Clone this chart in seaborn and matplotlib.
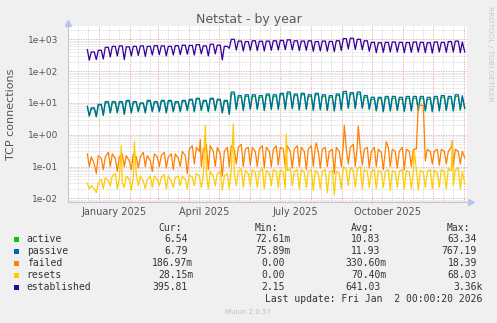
import numpy as np
import pandas as pd
import matplotlib
matplotlib.use("Agg")
import matplotlib.pyplot as plt
import matplotlib.dates as mdates
import matplotlib.ticker as mticker
from matplotlib.patches import Rectangle
from matplotlib.transforms import blended_transform_factory
import seaborn as sns

# ---------------- data ----------------
series_names = ["active", "passive", "failed", "resets", "established"]
series_colors = ["#00CC00", "#0066B3", "#FF8000", "#FFCC00", "#330099"]

week_start = "2024-12-16"   # Monday of first week
n_weeks = 55

established_high = [480, 400, 450, 560, 600, 620, 580, 600, 620, 600,
                    630, 620, 600, 630, 650, 640, 680, 620, 700, 650,
                    600, 1000, 880, 850, 900, 870, 880, 900, 920, 960,
                    900, 880, 900, 850, 880, 860, 900, 1050, 1080, 1000,
                    900, 800, 780, 800, 820, 800, 790, 820, 800, 780,
                    820, 800, 850, 880, 820]
established_low = [220, 230, 240, 280, 300, 230, 300, 310, 290, 320,
                   330, 300, 320, 330, 340, 320, 350, 300, 350, 224,
                   520, 460, 430, 450, 440, 430, 450, 460, 470, 460,
                   440, 450, 420, 430, 420, 410, 440, 500, 480, 470,
                   420, 380, 390, 400, 400, 380, 390, 400, 380, 370,
                   400, 390, 400, 380, 400]

passive_high = [8, 7, 9, 11, 11, 11, 12, 11, 10, 12,
                11, 12, 12, 11, 12, 13, 14, 12, 14, 13,
                12, 22, 17, 18, 18, 17, 19, 18, 20, 22,
                19, 20, 18, 20, 18, 17, 19, 23, 21, 22,
                17, 15, 15, 16, 16, 15, 16, 16, 16, 15,
                16, 17, 16, 18, 17]
passive_low = [4.0, 3.8, 4.2, 5.0, 5.0, 4.5, 5.0, 5.5, 5.0, 5.5,
               5.5, 5.0, 5.5, 5.5, 6.0, 5.5, 6.0, 5.5, 6.0, 5.0,
               4.5, 6.5, 6.0, 6.5, 6.5, 6.0, 6.5, 6.5, 6.5, 6.8,
               6.2, 6.5, 6.0, 6.3, 6.0, 5.8, 6.2, 7.0, 6.8, 7.0,
               6.5, 5.8, 5.5, 5.8, 6.0, 5.6, 5.8, 6.0, 5.8, 5.5,
               5.8, 6.0, 5.8, 6.2, 6.8]

active_high = [7.5, 6.5, 8.5, 10, 10, 10, 11, 10, 9.5, 11,
               10, 11, 11, 10, 11, 12, 13, 11, 13, 12,
               11, 19, 15, 16, 16, 15, 17, 16, 18, 19,
               17, 18, 16, 18, 16, 15, 17, 20, 19, 19,
               15, 13, 13.5, 14, 14, 13, 14, 14, 14, 13,
               14, 15, 14, 16, 15]
active_low = [3.8, 3.6, 4.0, 4.8, 4.8, 4.3, 4.8, 5.2, 4.8, 5.2,
              5.2, 4.8, 5.2, 5.2, 5.7, 5.2, 5.7, 5.2, 5.7, 4.8,
              4.3, 6.2, 5.7, 6.2, 6.2, 5.7, 6.2, 6.2, 6.2, 6.5,
              5.9, 6.2, 5.7, 6.0, 5.7, 5.5, 5.9, 6.7, 6.5, 6.7,
              6.2, 5.5, 5.2, 5.5, 5.7, 5.3, 5.5, 5.7, 5.5, 5.2,
              5.5, 5.7, 5.5, 5.9, 6.5]

failed_tue = [0.15, 0.20, 0.22, 0.20, 0.25, 0.20, 0.22, 0.25, 0.20, 0.22,
              0.25, 0.22, 0.20, 0.25, 0.30, 0.35, 0.40, 0.35, 0.45, 0.40,
              0.30, 0.45, 0.40, 0.35, 0.40, 0.35, 0.40, 0.35, 0.40, 0.45,
              0.35, 0.40, 0.35, 0.40, 0.35, 0.30, 0.40, 0.45, 0.40, 0.45,
              0.35, 0.30, 0.35, 0.30, 0.35, 0.30, 0.35, 0.35, 8.40, 0.35,
              0.30, 0.35, 0.30, 0.35, 0.30]
failed_fri = [0.25, 0.12, 0.18, 0.28, 0.18, 0.25, 0.15, 0.20, 0.28, 0.15,
              0.20, 0.28, 0.25, 0.18, 0.22, 0.45, 0.30, 0.50, 0.30, 0.25,
              0.40, 0.35, 0.50, 0.40, 0.30, 0.45, 0.30, 0.45, 0.35, 0.30,
              0.45, 0.30, 0.45, 0.30, 0.40, 0.35, 0.30, 0.35, 0.50, 0.35,
              0.40, 0.40, 0.28, 0.40, 0.30, 0.40, 0.30, 0.35, 8.40, 0.30,
              0.35, 0.30, 0.40, 0.30, 0.35]
failed_low = [0.10, 0.06, 0.08, 0.10, 0.07, 0.10, 0.08, 0.09, 0.10, 0.07,
              0.10, 0.09, 0.08, 0.10, 0.06, 0.12, 0.10, 0.08, 0.10, 0.05,
              0.10, 0.12, 0.10, 0.11, 0.10, 0.09, 0.10, 0.11, 0.10, 0.09,
              0.10, 0.08, 0.10, 0.09, 0.10, 0.06, 0.10, 0.12, 0.10, 0.11,
              0.09, 0.10, 0.08, 0.10, 0.09, 0.08, 0.10, 8.30, 0.15, 0.12,
              0.11, 0.12, 0.10, 0.12, 0.15]
failed_spike_dates = ["2025-04-12", "2025-08-06", "2025-09-03", "2025-09-17",
                      "2025-10-15", "2025-12-20"]
failed_spike_values = [0.70, 0.55, 2.00, 1.90, 0.60, 0.65]

resets_tue = [0.035, 0.025, 0.030, 0.045, 0.050, 0.040, 0.050, 0.045, 0.050, 0.040,
              0.050, 0.045, 0.050, 0.045, 0.050, 0.055, 0.060, 0.050, 0.070, 0.060,
              0.050, 0.080, 0.070, 0.075, 0.080, 0.070, 0.075, 0.080, 0.080, 0.075,
              0.070, 0.080, 0.070, 0.075, 0.070, 0.065, 0.070, 0.100, 0.090, 0.085,
              0.080, 0.070, 0.075, 0.070, 0.075, 0.070, 0.075, 0.070, 0.075, 0.070,
              0.075, 0.080, 0.085, 0.080, 0.070]
resets_fri = [0.030, 0.020, 0.040, 0.035, 0.060, 0.030, 0.040, 0.055, 0.035, 0.050,
              0.040, 0.055, 0.035, 0.050, 0.040, 0.045, 0.050, 0.065, 0.050, 0.070,
              0.060, 0.060, 0.085, 0.060, 0.065, 0.085, 0.060, 0.070, 0.065, 0.085,
              0.080, 0.065, 0.080, 0.060, 0.080, 0.075, 0.060, 0.080, 0.075, 0.100,
              0.070, 0.080, 0.065, 0.080, 0.065, 0.080, 0.065, 0.080, 0.065, 0.080,
              0.065, 0.070, 0.075, 0.090, 0.075]
resets_low = [0.020, 0.015, 0.020, 0.025, 0.020, 0.022, 0.018, 0.025, 0.020, 0.022,
              0.025, 0.020, 0.022, 0.025, 0.020, 0.025, 0.022, 0.020, 0.025, 0.018,
              0.020, 0.025, 0.022, 0.025, 0.022, 0.020, 0.025, 0.022, 0.020, 0.025,
              0.020, 0.022, 0.018, 0.020, 0.015, 0.013, 0.020, 0.025, 0.022, 0.020,
              0.022, 0.020, 0.022, 0.018, 0.022, 0.020, 0.020, 0.018, 0.022, 0.020,
              0.022, 0.020, 0.025, 0.020, 0.025]
resets_spike_dates = ["2025-01-23", "2025-02-05", "2025-04-17", "2025-05-15",
                      "2025-07-07", "2025-11-12", "2025-12-20"]
resets_spike_values = [0.45, 0.60, 2.00, 2.20, 1.05, 0.32, 0.60]

current_date = "2026-01-01 12:00"
current_values = [6.54, 6.79, 0.18697, 0.02815, 395.81]

legend_cur = ["6.54", "6.79", "186.97m", "28.15m", "395.81"]
legend_min = ["72.61m", "75.89m", "0.00", "0.00", "2.15"]
legend_avg = ["10.83", "11.93", "330.60m", "70.40m", "641.03"]
legend_max = ["63.34", "767.19", "18.39", "68.03", "3.36k"]

quarter_labels = ["January 2025", "April 2025", "July 2025", "October 2025"]
quarter_label_dates = ["2025-01-16", "2025-04-16", "2025-07-16", "2025-10-16"]

# ---------------- build table ----------------
mondays = pd.date_range(week_start, periods=n_weeks, freq="7D")
weekly = {
    "active": (active_high, active_high, active_low, [], []),
    "passive": (passive_high, passive_high, passive_low, [], []),
    "failed": (failed_tue, failed_fri, failed_low, failed_spike_dates, failed_spike_values),
    "resets": (resets_tue, resets_fri, resets_low, resets_spike_dates, resets_spike_values),
    "established": (established_high, established_high, established_low, [], []),
}
frames = []
for name, cur in zip(series_names, current_values):
    tue, fri, lo, sd, sv = weekly[name]
    d = (list(mondays + pd.Timedelta(days=1)) + list(mondays + pd.Timedelta(days=4))
         + list(mondays + pd.Timedelta(days=6)) + list(pd.to_datetime(sd)))
    v = list(tue) + list(fri) + list(lo) + list(sv)
    f = pd.DataFrame({"date": d, "value": v})
    f = f[(f["date"] >= "2024-12-19") & (f["date"] < current_date)]
    f = pd.concat([f, pd.DataFrame({"date": [pd.Timestamp(current_date)], "value": [cur]})])
    f["series"] = name
    frames.append(f.sort_values("date"))
df = pd.concat(frames, ignore_index=True)

# ---------------- figure ----------------
sns.set_theme(style="white")
plt.rcParams["font.family"] = ["DejaVu Sans"]

W, H = 497, 323
fig = plt.figure(figsize=(W / 100, H / 100), dpi=100)
fig.patch.set_facecolor("#F0F0F0")

def fx(x):
    return x / W

def fy(y):
    return 1 - y / H

ax_l, ax_r, ax_t, ax_b = 67.7, 466.7, 26.0, 202.0
ax = fig.add_axes([fx(ax_l), fy(ax_b), (ax_r - ax_l) / W, (ax_b - ax_t) / H])
ax.set_facecolor("white")

sns.lineplot(data=df, x="date", y="value", hue="series", hue_order=series_names,
             palette=dict(zip(series_names, series_colors)), estimator=None,
             sort=False, linewidth=0.9, legend=False, ax=ax)

ax.set_yscale("log")
ax.set_ylim(10 ** -2.116, 10 ** 3.418)
ax.set_xlim(pd.Timestamp("2024-11-30 09:36"), pd.Timestamp("2026-01-03 09:36"))

ax.yaxis.set_major_locator(mticker.LogLocator(base=10, numticks=20))
ax.yaxis.set_minor_locator(mticker.LogLocator(base=10, subs=np.arange(2, 10), numticks=20))
ax.yaxis.set_major_formatter(mticker.FuncFormatter(lambda v, _: f"{v:.0e}"))
ax.yaxis.set_minor_formatter(mticker.NullFormatter())

ax.xaxis.set_major_locator(mdates.MonthLocator())
ax.xaxis.set_minor_locator(mdates.DayLocator(bymonthday=[11, 21]))
ax.xaxis.set_major_formatter(mticker.NullFormatter())
ax.xaxis.set_minor_formatter(mticker.NullFormatter())

ax.grid(which="minor", axis="both", color="#CFCFCF", linestyle=(0, (1, 1)), linewidth=0.5)
ax.grid(which="major", axis="both", color="#EBA0A0", linestyle=(0, (1.5, 1.5)), linewidth=0.6)
ax.set_axisbelow(True)

ax.tick_params(axis="x", which="major", length=2.5, width=0.8, color="#E08080", labelbottom=False)
ax.tick_params(axis="x", which="minor", length=0)
ax.tick_params(axis="y", which="major", length=2.5, width=0.8, color="#E08080",
               labelsize=6.5, labelcolor="#555555", pad=4.2)
ax.tick_params(axis="y", which="minor", length=1.5, width=0.6, color="#BBBBBB")

for s in ["top", "right"]:
    ax.spines[s].set_visible(False)
for s in ["left", "bottom"]:
    ax.spines[s].set_color("#C4C4D4")
    ax.spines[s].set_linewidth(0.8)
ax.set_xlabel("")
ax.set_ylabel("")

# axis arrows
ax.plot([0], [1.017], marker="^", markersize=4, color="#B8C4F0", transform=ax.transAxes, clip_on=False)
ax.plot([1.012], [0], marker=">", markersize=4, color="#B8C4F0", transform=ax.transAxes, clip_on=False)

# quarter labels
tr = blended_transform_factory(ax.transData, fig.transFigure)
for lab, d in zip(quarter_labels, quarter_label_dates):
    ax.text(pd.Timestamp(d), fy(212.3), lab, transform=tr, ha="center", va="center",
            fontsize=7, color="#555555")

# titles
fig.text(fx(248.5), fy(19.3), "Netstat - by year", ha="center", va="center", fontsize=9, color="#5A5A5A")
fig.text(fx(11), fy(114), "TCP connections", rotation=90, ha="center", va="center",
         fontsize=8, color="#555555")
fig.text(fx(490), fy(53.5), "RRDTOOL / TOBI OETIKER", rotation=-90, ha="center", va="center",
         fontsize=5.4, color="#C8C8C8")

# legend
mono = "DejaVu Sans Mono"
tcol = "#333333"
cw = 5.8
rows_y = [239.5, 251.5, 263.5, 275.5, 287.5]
col_right = [193.3, 290.5, 386.5, 482.6]
for hdr, xl in zip(["Cur:", "Min:", "Avg:", "Max:"], [158, 255, 351, 447]):
    fig.text(fx(xl), fy(228), hdr, ha="left", va="center", family=mono, fontsize=7, color=tcol)
for i, (name, col) in enumerate(zip(series_names, series_colors)):
    y = rows_y[i]
    fig.patches.append(Rectangle((fx(14), fy(y + 2.7)), 5.3 / W, 5.3 / H, transform=fig.transFigure,
                                 facecolor=col, edgecolor="none"))
    fig.text(fx(26.7), fy(y), name, ha="left", va="center", family=mono, fontsize=7, color=tcol)
    for vals, xr in zip([legend_cur, legend_min, legend_avg, legend_max], col_right):
        s = vals[i]
        right = xr if s[-1].isalpha() else xr - cw
        fig.text(fx(right), fy(y), s, ha="right", va="center", family=mono, fontsize=7, color=tcol)

fig.text(fx(482.7), fy(299.5), "Last update: Fri Jan  2 00:00:20 2026", ha="right", va="center",
         family=mono, fontsize=7, color=tcol)
fig.text(fx(248), fy(312.3), "Munin 2.0.57", ha="center", va="center", fontsize=5, color="#C0C0C0")

fig.savefig("out.png", dpi=100, facecolor=fig.get_facecolor())
